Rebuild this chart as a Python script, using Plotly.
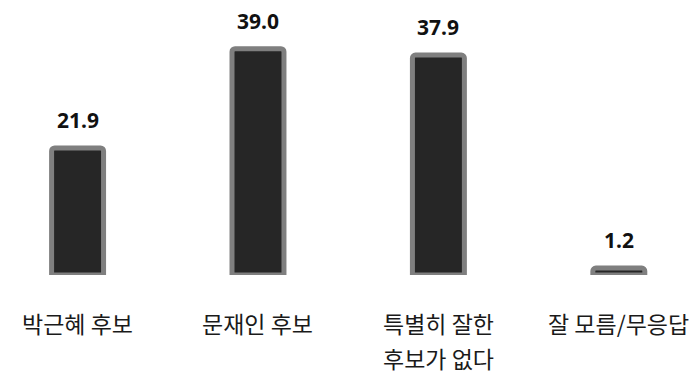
import plotly.graph_objects as go

# Survey response shares (%)
categories = ["박근혜 후보", "문재인 후보", "특별히 잘한\n후보가 없다", "잘 모름/무응답"]
values = [21.9, 39.0, 37.9, 1.2]
value_labels = [f"{v:.1f}" for v in values]

FILL = "#262626"
EDGE = "#7f7f7f"
KR_FONT = "Noto Sans CJK KR"
NUM_FONT = "Noto Sans"

x_pos = list(range(len(categories)))

fig = go.Figure(
    go.Bar(
        x=x_pos,
        y=values,
        width=0.288,
        marker=dict(color=FILL, line=dict(color=EDGE, width=5), cornerradius=3),
        cliponaxis=False,
        hoverinfo="skip",
    )
)

annotations = []
# value labels above each bar
for xi, v, lab in zip(x_pos, values, value_labels):
    annotations.append(
        dict(
            x=xi, y=v, xref="x", yref="y", text=f"<b>{lab}</b>",
            showarrow=False, yanchor="bottom", yshift=12,
            font=dict(family=NUM_FONT, size=21, color="#111111"),
        )
    )
# category labels below the baseline, one annotation per line
for xi, cat in zip(x_pos, categories):
    for li, line in enumerate(cat.split("\n")):
        annotations.append(
            dict(
                x=xi, y=0, xref="x", yref="paper", text=line,
                showarrow=False, yanchor="top", yshift=-29 - 35 * li,
                font=dict(family=KR_FONT, size=23, color="#1a1a1a"),
            )
        )

fig.update_layout(
    width=700,
    height=377,
    margin=dict(l=0, r=0, t=0, b=102),
    paper_bgcolor="white",
    plot_bgcolor="white",
    showlegend=False,
    xaxis=dict(range=[-0.43, 3.45], visible=False, fixedrange=True),
    yaxis=dict(range=[0, 47.4], visible=False, fixedrange=True),
    annotations=annotations,
)

fig.write_html("out.html")
